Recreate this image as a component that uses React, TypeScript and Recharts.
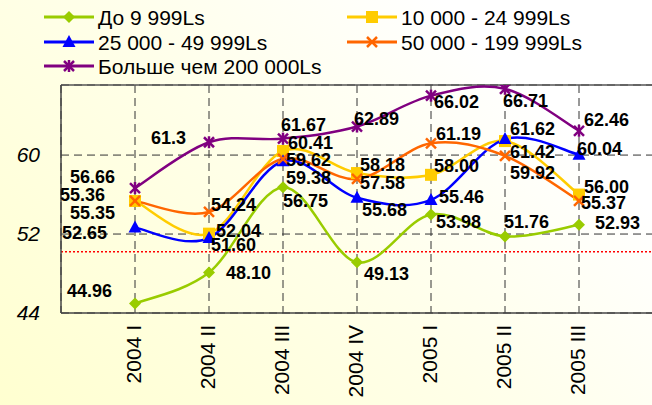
import React from 'react';
import { LineChart, Line, XAxis, YAxis, CartesianGrid, ReferenceLine, LabelList } from 'recharts';

const categories = ['2004 I', '2004 II', '2004 III', '2004 IV', '2005 I', '2005 II', '2005 III'];
const seriesNames = ['До 9 999Ls', '10 000 - 24 999Ls', '25 000 - 49 999Ls', '50 000 - 199 999Ls', 'Больше чем 200 000Ls'];
const s1 = [44.96, 48.1, 56.75, 49.13, 53.98, 51.76, 52.93];
const s2 = [55.35, 52.04, 60.41, 58.18, 58.0, 61.42, 56.0];
const s3 = [52.65, 51.6, 59.38, 55.68, 55.46, 61.62, 60.04];
const s4 = [55.36, 54.24, 59.62, 57.58, 61.19, 59.92, 55.37];
const s5 = [56.66, 61.3, 61.67, 62.89, 66.02, 66.71, 62.46];
const labelDecimals = [
  [2, 2, 2, 2, 2, 2, 2],
  [2, 2, 2, 2, 2, 2, 2],
  [2, 2, 2, 2, 2, 2, 2],
  [2, 2, 2, 2, 2, 2, 2],
  [2, 1, 2, 2, 2, 2, 2],
];
const yTicks = [44, 52, 60];
const referenceValue = 50.2;
const Y_MIN = 44;
const Y_MAX = 67.1;

const seriesValues = [s1, s2, s3, s4, s5];
const keys = ['s1', 's2', 's3', 's4', 's5'];
const colors = ['#99CC00', '#FFCC00', '#0000FF', '#FF6600', '#800080'];
const markers = ['diamond', 'square', 'triangle', 'cross', 'star'];

// label placement offsets (layout): left edge dx, centre dy relative to point
const LABEL_DX = [
  [-68, 17, 0, 7, 5, -1, 16],
  [-65, 7, 5, 3, 3, 5, 5],
  [-73, 2, 3, 5, 8, 5, -2],
  [-75, 2, 3, 3, 5, 5, 2],
  [-65, -58, -2, -3, 3, -2, 5],
];
const LABEL_DY = [
  [-13, 0, 13, 11, 7, -15, -2],
  [12, -3, -9, -9, -9, 10, -8],
  [5, 7, 16, 12, -3, -11, -6],
  [-6, -7, 1, 4, -10, 17, 2],
  [-12, -5, -14, -8, 6, 12, -11],
];

const data = categories.map((cat, i) => {
  const row: any = { cat };
  keys.forEach((k, j) => (row[k] = seriesValues[j][i]));
  return row;
});

// Catmull-Rom style smoothing (Excel smoothed line)
function smoothCurve(context: any) {
  let pts: [number, number][] = [];
  return {
    areaStart() {},
    areaEnd() {},
    lineStart() {
      pts = [];
    },
    lineEnd() {
      const n = pts.length;
      if (!n) return;
      context.moveTo(pts[0][0], pts[0][1]);
      if (n === 1) return;
      for (let i = 0; i < n - 1; i++) {
        const p0 = pts[i === 0 ? 0 : i - 1];
        const p1 = pts[i];
        const p2 = pts[i + 1];
        const p3 = pts[i + 2 < n ? i + 2 : n - 1];
        context.bezierCurveTo(
          p1[0] + (p2[0] - p0[0]) / 6,
          p1[1] + (p2[1] - p0[1]) / 6,
          p2[0] - (p3[0] - p1[0]) / 6,
          p2[1] - (p3[1] - p1[1]) / 6,
          p2[0],
          p2[1]
        );
      }
    },
    point(x: number, y: number) {
      pts.push([+x, +y]);
    },
  };
}

function Marker({ kind, cx, cy, color }: { kind: string; cx: number; cy: number; color: string }) {
  if (cx == null || cy == null) return null;
  switch (kind) {
    case 'diamond':
      return <polygon points={`${cx},${cy - 6} ${cx + 6},${cy} ${cx},${cy + 6} ${cx - 6},${cy}`} fill={color} />;
    case 'square':
      return <rect x={cx - 6} y={cy - 6} width={12} height={12} fill={color} />;
    case 'triangle':
      return <polygon points={`${cx},${cy - 7} ${cx + 6.5},${cy + 5} ${cx - 6.5},${cy + 5}`} fill={color} />;
    case 'cross':
      return (
        <g stroke={color} strokeWidth={2.5}>
          <line x1={cx - 5} y1={cy - 5} x2={cx + 5} y2={cy + 5} />
          <line x1={cx - 5} y1={cy + 5} x2={cx + 5} y2={cy - 5} />
        </g>
      );
    default:
      return (
        <g stroke={color} strokeWidth={2.5}>
          <line x1={cx - 5} y1={cy - 5} x2={cx + 5} y2={cy + 5} />
          <line x1={cx - 5} y1={cy + 5} x2={cx + 5} y2={cy - 5} />
          <line x1={cx} y1={cy - 6} x2={cx} y2={cy + 6} />
        </g>
      );
  }
}

const YTick = (props: any) => {
  const { y, payload } = props;
  return (
    <text x={40} y={y + 7} textAnchor="end" fontFamily="'Liberation Sans', Arial, sans-serif" fontStyle="italic" fontSize={21} fill="#000">
      {payload.value}
    </text>
  );
};

const XTick = (props: any) => {
  const { x, payload } = props;
  const bx = x + 6;
  const by = 325;
  return (
    <text x={bx} y={by} transform={`rotate(-90, ${bx}, ${by})`} textAnchor="end" fontFamily="'Liberation Sans', Arial, sans-serif" fontSize={21} fill="#000">
      {payload.value}
    </text>
  );
};

const makeLabel = (si: number) => (props: any) => {
  const { index, value } = props;
  const vb = props.viewBox || {};
  const px = vb.x != null ? vb.x : props.x;
  const py = vb.y != null ? vb.y : props.y;
  if (px == null || py == null) return null;
  return (
    <text
      x={px + LABEL_DX[si][index]}
      y={py + LABEL_DY[si][index] + 6.5}
      fontFamily="'Liberation Sans', Arial, sans-serif"
      fontWeight="bold"
      fontSize={18}
      fill="#000"
    >
      {Number(value).toFixed(labelDecimals[si][index])}
    </text>
  );
};

const legendRows = [
  { si: 0, x: 44, y: 17 },
  { si: 1, x: 347, y: 17 },
  { si: 2, x: 44, y: 42 },
  { si: 3, x: 347, y: 42 },
  { si: 4, x: 44, y: 66 },
];

function LegendBox() {
  return (
    <svg width={652} height={80} style={{ position: 'absolute', left: 0, top: 0 }}>
      {legendRows.map((r) => (
        <g key={r.si}>
          <line x1={r.x} y1={r.y} x2={r.x + 50} y2={r.y} stroke={colors[r.si]} strokeWidth={3} />
          <Marker kind={markers[r.si]} cx={r.x + 25} cy={r.y} color={colors[r.si]} />
          <text x={r.x + 54} y={r.y + 7.5} fontFamily="'Liberation Sans', Arial, sans-serif" fontSize={21} fill="#000">
            {seriesNames[r.si]}
          </text>
        </g>
      ))}
    </svg>
  );
}

export default function App() {
  return (
    <div
      style={{
        position: 'absolute',
        left: 0,
        top: 0,
        width: 652,
        height: 405,
        overflow: 'hidden',
        background: 'linear-gradient(45deg, #FFFFD0 0%, #FFFFE8 45%, #FFFFFF 80%)',
      }}
    >
      <LineChart width={652} height={405} data={data} margin={{ top: 85, right: -1, bottom: 12, left: 11 }}>
        <CartesianGrid stroke="#333" strokeDasharray="8 5" strokeWidth={1} />
        <XAxis
          dataKey="cat"
          padding={{ left: 74, right: 74 }}
          axisLine={{ stroke: '#444', strokeWidth: 1.5 }}
          tickLine={false}
          height={80}
          interval={0}
          tick={<XTick />}
        />
        <YAxis
          type="number"
          domain={[Y_MIN, Y_MAX]}
          ticks={yTicks}
          allowDataOverflow
          axisLine={{ stroke: '#444', strokeWidth: 1.5 }}
          tickLine={false}
          width={50}
          tick={<YTick />}
        />
        <ReferenceLine y={Y_MAX} stroke="#555" strokeWidth={1.5} />
        <ReferenceLine y={referenceValue} stroke="#FF0000" strokeWidth={1.5} strokeDasharray="2 2" />
        {keys.map((k, si) => (
          <Line
            key={k}
            dataKey={k}
            name={seriesNames[si]}
            type={smoothCurve as any}
            stroke={colors[si]}
            strokeWidth={2.5}
            isAnimationActive={false}
            dot={(p: any) => <Marker key={`${k}-${p.index}`} kind={markers[si]} cx={p.cx} cy={p.cy} color={colors[si]} />}
            activeDot={false}
          >
            <LabelList dataKey={k} content={makeLabel(si)} />
          </Line>
        ))}
      </LineChart>
      <LegendBox />
    </div>
  );
}
